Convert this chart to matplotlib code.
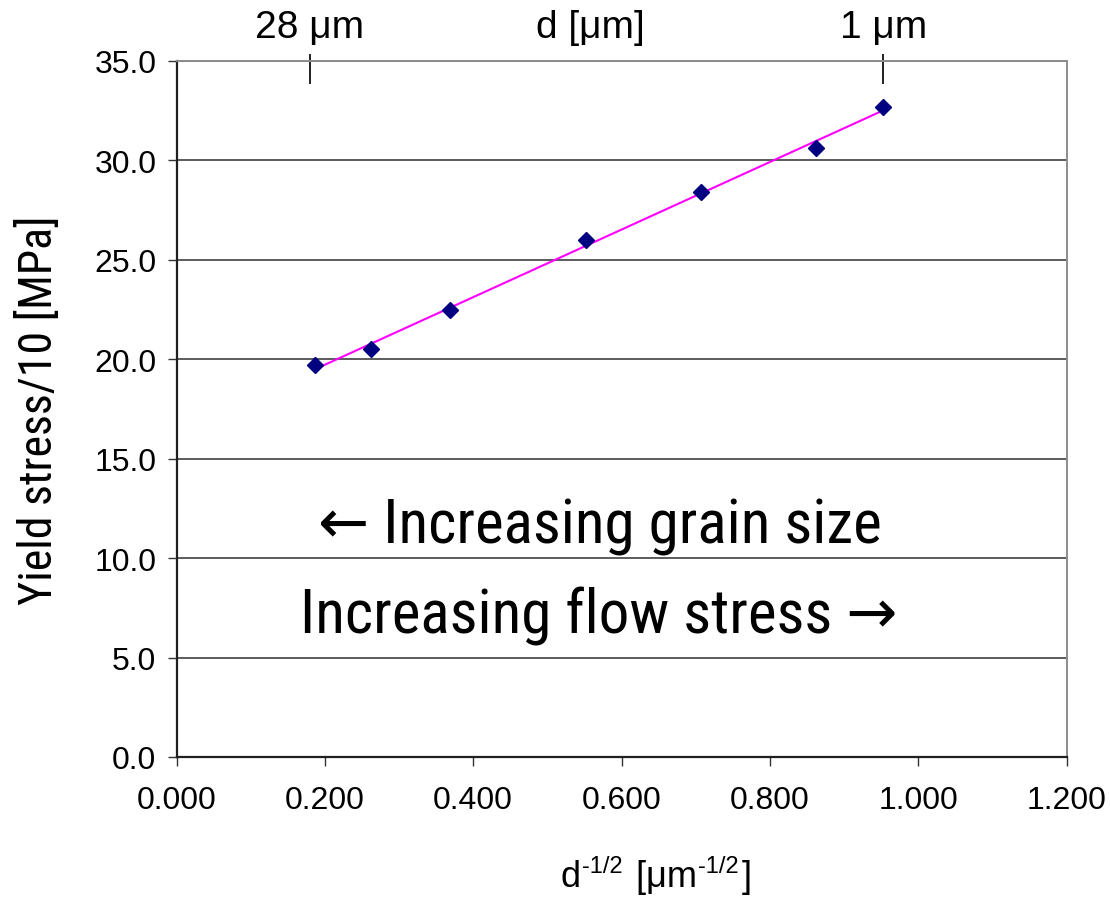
import numpy as np
import matplotlib
matplotlib.use("Agg")
import matplotlib.pyplot as plt
import matplotlib.transforms as mtransforms

# data
d_inv_sqrt = [0.187, 0.262, 0.369, 0.552, 0.707, 0.862, 0.952]
yield_stress = [19.7, 20.5, 22.5, 26.0, 28.4, 30.6, 32.7]

x_ticks = [0.0, 0.2, 0.4, 0.6, 0.8, 1.0, 1.2]
y_ticks = [0, 5, 10, 15, 20, 25, 30, 35]

# grain size ticks along the top edge
top_tick_pos = [0.180, 0.953]
top_tick_labels = ["28 \u03bcm", "1 \u03bcm"]
top_title_pos = 0.5575

# x label pieces: (text, fontsize, raised?)
xlabel_parts = [("d", 26, False), ("-1/2", 17, True), (" [\u03bcm", 26, False),
                ("-1/2", 17, True), ("]", 26, False)]

plt.rcParams['font.family'] = ['Liberation Sans', 'DejaVu Sans']
narrow = ['Roboto Condensed', 'Roboto', 'DejaVu Sans']

W, H = 1110, 903
fig = plt.figure(figsize=(W / 100, H / 100), dpi=100)
ax = fig.add_axes([176.5 / W, 1 - 758 / H, 890 / W, 696 / H])

# trendline from a least squares fit
k, b = np.polyfit(d_inv_sqrt, yield_stress, 1)
xs = np.array([min(d_inv_sqrt), max(d_inv_sqrt)])
ax.plot(xs, k * xs + b, color='#FF00FF', lw=1.5, zorder=3)
ax.plot(d_inv_sqrt, yield_stress, linestyle='none', marker='D', ms=8,
        color='#000080', zorder=4)

ax.set_xlim(0, 1.2)
ax.set_ylim(0, 35)
ax.set_xticks(x_ticks)
ax.set_yticks(y_ticks)
ax.set_xticklabels([f"{v:.3f}" for v in x_ticks])
ax.set_yticklabels([f"{v:.1f}" for v in y_ticks])
ax.tick_params(direction='out', length=6.5, width=1, colors='#333333',
               labelcolor='black', labelsize=23, pad=8)
ax.tick_params(axis='x', pad=14)

ax.yaxis.grid(True, color='#404040', lw=1.2)
ax.set_axisbelow(True)
for side in ['left', 'bottom']:
    ax.spines[side].set_color('#202020')
    ax.spines[side].set_linewidth(1.6)
for side in ['top', 'right']:
    ax.spines[side].set_color('#8c8c8c')
    ax.spines[side].set_linewidth(1.4)

ax.set_ylabel("Yield stress/10 [MPa]", family=narrow, fontsize=33, labelpad=24)

# x label, written piece by piece so the exponents keep a plain hyphen
renderer = fig.canvas.get_renderer()
x_px = 561
for txt, size, raised in xlabel_parts:
    y_px = 873 if raised else 887
    t = fig.text(x_px / W, 1 - y_px / H, txt, fontsize=size, ha='left', va='baseline')
    x_px = x_px + t.get_window_extent(renderer).width + (3 if raised else 1)

# top ticks and labels
top_trans = mtransforms.blended_transform_factory(ax.transData, ax.transAxes)
lab_trans = mtransforms.blended_transform_factory(ax.transData, fig.transFigure)
for pos, lab in zip(top_tick_pos, top_tick_labels):
    ax.plot([pos, pos], [1 + 6 / 696, 1 - 22 / 696], color='#202020', lw=1.4,
            transform=top_trans, clip_on=False)
    ax.text(pos, 1 - 28 / H, lab, transform=lab_trans, fontsize=28,
            ha='center', va='center')
ax.text(top_title_pos, 1 - 28 / H, "d [\u03bcm]", transform=lab_trans,
        fontsize=28, ha='center', va='center')

ax.text(0.571, 11.6, "\u2190 Increasing grain size", family=narrow,
        fontsize=44, ha='center', va='center')
ax.text(0.570, 7.1, "Increasing flow stress \u2192", family=narrow,
        fontsize=44, ha='center', va='center')

fig.savefig("out.png", dpi=100)
